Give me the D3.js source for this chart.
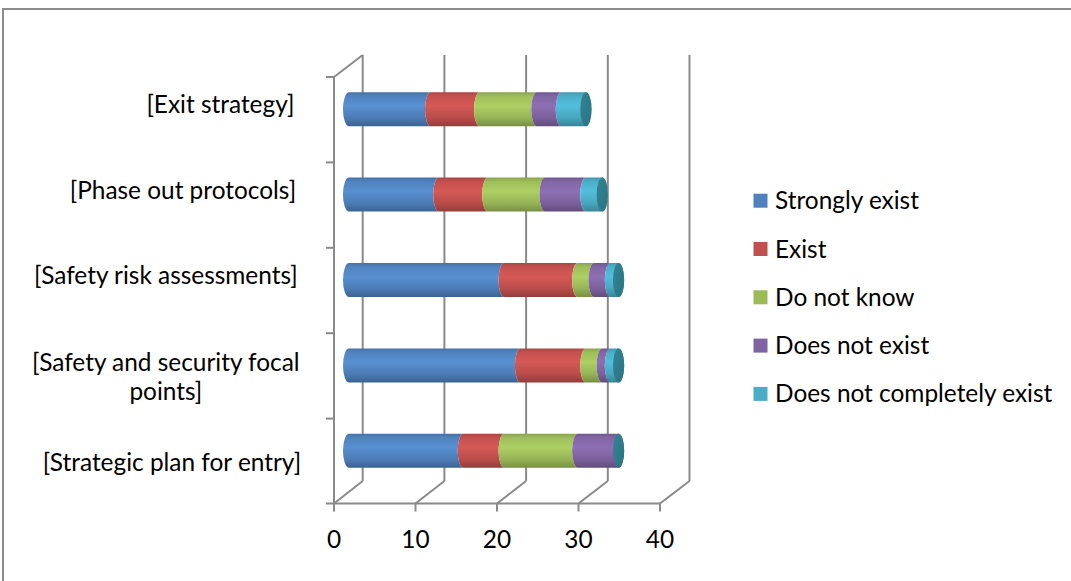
<!DOCTYPE html>
<html>
<head>
<meta charset="utf-8">
<script src="https://cdn.jsdelivr.net/npm/d3@7"></script>
<style>
  html, body { margin: 0; padding: 0; background: #fff; }
  svg { display: block; }
  text { font-family: Lato, "Open Sans", sans-serif; fill: #000; }
</style>
</head>
<body>
<svg id="chart" width="1071" height="581"></svg>
<script>
// Survey responses per item (top to bottom as drawn)
const categories = [
  "[Exit strategy]",
  "[Phase out protocols]",
  "[Safety risk assessments]",
  "[Safety and security focal points]",
  "[Strategic plan for entry]"
];
const seriesNames = ["Strongly exist", "Exist", "Do not know", "Does not exist", "Does not completely exist"];
const stronglyExist        = [9, 10, 18, 20, 13];
const exist                = [6, 6, 9, 8, 5];
const doNotKnow            = [7, 7, 2, 2, 9];
const doesNotExist         = [3, 5, 2, 1, 6];
const doesNotCompletely    = [4, 3, 2, 2, 0];
const seriesValues = [stronglyExist, exist, doNotKnow, doesNotExist, doesNotCompletely];
const xTicks = [0, 10, 20, 30, 40];
const categoryLines = {
  "[Safety and security focal points]": ["[Safety and security focal", "points]"]
};

const colors = ["#4F81BD", "#C0504D", "#9BBB59", "#8064A2", "#4BACC6"];
const capColor = "#2f7b8b";
const gridColor = "#8a8a8a";

const svg = d3.select("#chart");

// font size tuned so legend text has the intended width
const probe = svg.append("text").attr("font-size", 26).text("Strongly exist");
const fs = 26 * 144 / probe.node().getComputedTextLength();
probe.remove();

// outer chart frame
svg.append("rect")
  .attr("x", 3).attr("y", 9).attr("width", 1120).attr("height", 620)
  .attr("fill", "none").attr("stroke", "#8c8c8c").attr("stroke-width", 2);

// 3D box geometry: front plane, back plane and mid plane (bars)
const xFront = d3.scaleLinear().domain([0, 40]).range([334, 660]);
const xBack  = d3.scaleLinear().domain([0, 40]).range([362.7, 689.5]);
const xMid   = d3.scaleLinear().domain([0, 40]).range([349, 675.8]);
const yFront = d3.scaleBand().domain(categories).range([77, 504]).paddingInner(0).paddingOuter(0);
const frontTop = 77, frontBottom = 503.5, backTop = 55, backBottom = 481;

const grid = svg.append("g").attr("stroke", gridColor).attr("stroke-width", 2).attr("fill", "none");

// back wall verticals
grid.selectAll("line.back").data(xTicks).join("line")
  .attr("x1", d => xBack(d)).attr("x2", d => xBack(d))
  .attr("y1", backTop).attr("y2", backBottom);
// floor diagonals
grid.selectAll("line.floor").data(xTicks).join("line")
  .attr("x1", d => xFront(d)).attr("y1", frontBottom)
  .attr("x2", d => xBack(d)).attr("y2", backBottom);
// side wall
grid.append("line").attr("x1", xFront(0)).attr("x2", xFront(0)).attr("y1", frontTop).attr("y2", frontBottom);
grid.append("line").attr("x1", xFront(0)).attr("y1", frontTop).attr("x2", xBack(0)).attr("y2", backTop);
// value axis
grid.append("line").attr("x1", xFront(0) - 8).attr("x2", xFront(40)).attr("y1", frontBottom).attr("y2", frontBottom);
grid.selectAll("line.vt").data(xTicks).join("line")
  .attr("x1", d => xFront(d)).attr("x2", d => xFront(d))
  .attr("y1", frontBottom).attr("y2", frontBottom + 8);
// category ticks on the side wall
const catTicks = categories.map(c => yFront(c));
grid.selectAll("line.ct").data(catTicks).join("line")
  .attr("x1", xFront(0) - 8).attr("x2", xFront(0))
  .attr("y1", d => d).attr("y2", d => d);

// value tick labels
svg.append("g").selectAll("text").data(xTicks).join("text")
  .attr("x", d => xFront(d)).attr("y", 539).attr("dy", "0.35em")
  .attr("text-anchor", "middle").attr("font-size", fs)
  .text(d => d);

// category labels
const labelShift = [-15, -15, -15, 1, 1];
const labels = svg.append("g");
categories.forEach((c, i) => {
  const cy = yFront(c) + yFront.bandwidth() / 2 + labelShift[i];
  const t = (cy - frontTop) / (frontBottom - frontTop);
  const lines = categoryLines[c] || [c];
  const lh = fs * 1.22;
  const txt = labels.append("text").attr("font-size", fs);
  if (lines.length === 1) {
    txt.attr("text-anchor", "end").attr("x", 294 + 8 * t).attr("y", cy).attr("dy", "0.35em").text(c);
  } else {
    const w = [];
    lines.forEach(l => {
      const p = svg.append("text").attr("font-size", fs).text(l);
      w.push(p.node().getComputedTextLength()); p.remove();
    });
    const right = 294 + 8 * t;
    const cx = right - d3.max(w) / 2;
    lines.forEach((l, k) => {
      labels.append("text").attr("font-size", fs).attr("text-anchor", "middle")
        .attr("x", cx).attr("y", cy + (k - (lines.length - 1) / 2) * lh).attr("dy", "0.35em").text(l);
    });
    txt.remove();
  }
});

// cylinder shading gradients
const defs = svg.append("defs");
colors.forEach((col, i) => {
  const c = d3.color(col);
  const g = defs.append("linearGradient").attr("id", "grad" + i)
    .attr("x1", 0).attr("y1", 0).attr("x2", 0).attr("y2", 1);
  g.append("stop").attr("offset", "0%").attr("stop-color", c.darker(0.35));
  g.append("stop").attr("offset", "12%").attr("stop-color", c.brighter(0.05));
  g.append("stop").attr("offset", "40%").attr("stop-color", c.brighter(0.3));
  g.append("stop").attr("offset", "75%").attr("stop-color", c.darker(0.1));
  g.append("stop").attr("offset", "100%").attr("stop-color", c.darker(0.75));
});
const capGrad = defs.append("linearGradient").attr("id", "capGrad")
  .attr("x1", 0).attr("y1", 0).attr("x2", 1).attr("y2", 1);
capGrad.append("stop").attr("offset", "0%").attr("stop-color", d3.color(capColor).brighter(0.2));
capGrad.append("stop").attr("offset", "100%").attr("stop-color", d3.color(capColor).darker(0.2));

// stacked cylinders
const ry = 17, rxEnd = 6, rxSeam = 5.6, seamOffset = 8.1;
const bars = svg.append("g");
categories.forEach((c, ci) => {
  const cy = yFront(c) + yFront.bandwidth() / 2 - 10.5;
  const vals = seriesValues.map(s => s[ci]);
  const total = d3.sum(vals);
  const lastIdx = d3.max(vals.map((v, i) => v > 0 ? i : -1));
  let acc = 0;
  vals.forEach((v, si) => {
    if (v <= 0) { return; }
    const v0 = acc, v1 = acc + v;
    acc = v1;
    const first = v0 === 0, last = si === lastIdx;
    const lx = first ? xMid(v0) : xMid(v0) + seamOffset;
    const lrx = first ? rxEnd : rxSeam;
    const rx = last ? xMid(v1) : xMid(v1) + seamOffset;
    const rrx = last ? rxSeam : rxSeam;
    const p = d3.path();
    p.moveTo(lx, cy - ry);
    const d = `M${lx},${cy - ry} A${lrx},${ry} 0 0 0 ${lx},${cy + ry} L${rx},${cy + ry} A${rrx},${ry} 0 0 ${last ? 0 : 1} ${rx},${cy - ry} Z`;
    bars.append("path").attr("d", d).attr("fill", `url(#grad${si})`);
  });
  bars.append("ellipse")
    .attr("cx", xMid(total)).attr("cy", cy).attr("rx", rxSeam).attr("ry", ry)
    .attr("fill", "url(#capGrad)");
});

// legend
const legend = svg.append("g");
seriesNames.forEach((name, i) => {
  const y = 200.7 + i * 48.3;
  legend.append("rect").attr("x", 753.5).attr("y", y - 7).attr("width", 14).attr("height", 14).attr("fill", colors[i]);
  legend.append("text").attr("x", 775).attr("y", y).attr("dy", "0.35em").attr("font-size", fs).text(name);
});
</script>
</body>
</html>
